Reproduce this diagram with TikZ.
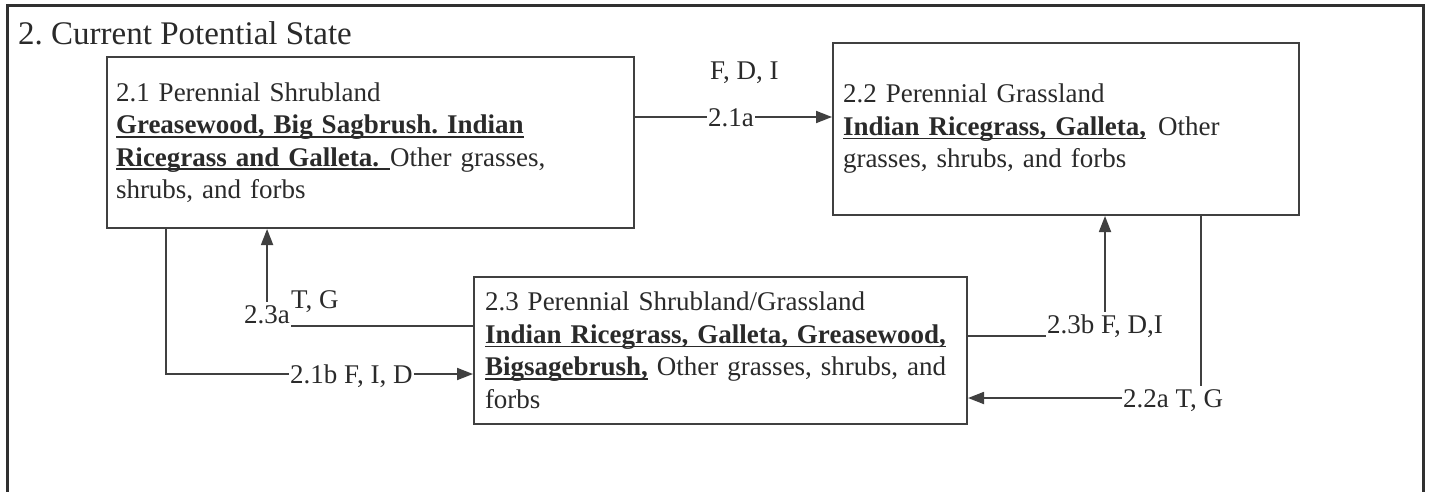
\documentclass[tikz,border=0pt]{standalone}
\usepackage{fontspec}
\setmainfont{Liberation Serif}
\usetikzlibrary{arrows.meta}
\definecolor{ink}{HTML}{2A2A2A}
\definecolor{lin}{HTML}{404040}
\definecolor{frm}{HTML}{303030}
\newcommand\myul[1]{\leavevmode\sbox0{#1}\rlap{\rule[-4pt]{\wd0}{1.6pt}}\usebox0}
\frenchspacing
\begin{document}
\begin{tikzpicture}[x=1pt,y=-1pt,
  every node/.style={text=ink},
  box/.style={draw=lin, line width=2pt, anchor=north west, align=left,
    font=\fontsize{27}{32.5}\selectfont, inner ysep=0pt},
  lbl/.style={inner xsep=1pt, inner ysep=3pt, text height=18pt, text depth=0pt,
    font=\fontsize{27}{32}\selectfont},
  conn/.style={draw=lin, line width=1.8pt},
  arr/.style={conn, -{Triangle[length=16pt,width=12pt]}},
  frame/.style={draw=frm, line width=3pt},
]
\useasboundingbox (0,0) rectangle (1431,492);
\fill[white] (0,0) rectangle (1431,492);
% outer frame
\draw[frame] (7,495) -- (7,6) -- (1423,6) -- (1423,495);
\node[anchor=base west, font=\fontsize{33}{40}\selectfont, inner sep=0pt] (title) at (18,45) {2. Current Potential State};

% boxes
\node[box, minimum width=527pt, minimum height=171pt, text width=509pt, inner xsep=9pt] (b21) at (106,56)
 {2.1 Perennial Shrubland\\
  \myul{\textbf{Greasewood, Big Sagbrush. Indian}}\\
  \myul{\textbf{Ricegrass and Galleta.}\hspace{11pt}}Other grasses,\\
  shrubs, and forbs};
\node[box, minimum width=466pt, minimum height=172pt, text width=446pt, inner xsep=10pt] (b22) at (832,42)
 {2.2 Perennial Grassland\\
  \myul{\textbf{Indian Ricegrass, Galleta,}}\hspace{12pt}Other\\
  grasses, shrubs, and forbs};
\node[box, minimum width=493pt, minimum height=147pt, text width=471pt, inner xsep=11pt] (b23) at (473,276)
 {2.3 Perennial Shrubland/Grassland\\
  \myul{\textbf{Indian Ricegrass, Galleta, Greasewood,}}\\
  \myul{\textbf{Bigsagebrush,}} Other grasses, shrubs, and\\
  forbs};

% 2.1a
\node[lbl, anchor=base west] (l21aT) at (709,80) {F, D, I};
\node[lbl] (l21a) at (731,117) {2.1a};
\draw[conn] (b21.east |- l21a.west) -- (l21a.west);
\draw[arr] (l21a.east) -- (b22.west |- l21a.east);

% 2.1b
\node[lbl, anchor=west] (l21b) at (289,374) {2.1b F, I, D};
\coordinate (p21b) at (166,0);
\draw[conn] (b21.south -| p21b) |- (l21b.west);
\draw[arr] (l21b.east) -- (b23.west |- l21b.east);

% 2.3a
\node[lbl, anchor=base west] (l23a) at (243,323) {2.3a};
\node[lbl, anchor=base west] (l23aT) at (290,308) {T, G};
\draw[conn] (b23.west |- l23a.south east) -- (l23a.south east);
\draw[arr] (l23a.north) -- (b21.south -| l23a.north);

% 2.3b
\node[lbl, anchor=base west] (l23b) at (1046,333) {2.3b F, D,I};
\draw[conn] (b23.east |- l23b.south west) -- (l23b.south west);
\draw[arr] (l23b.north) -- (b22.south -| l23b.north);

% 2.2a
\node[lbl, anchor=base west] (l22a) at (1122,407) {2.2a T, G};
\coordinate (p22a) at (1201,0);
\draw[conn] (b22.south -| p22a) -- (l22a.north -| p22a);
\draw[arr] (l22a.west) -- (b23.east |- l22a.west);
\end{tikzpicture}
\end{document}
